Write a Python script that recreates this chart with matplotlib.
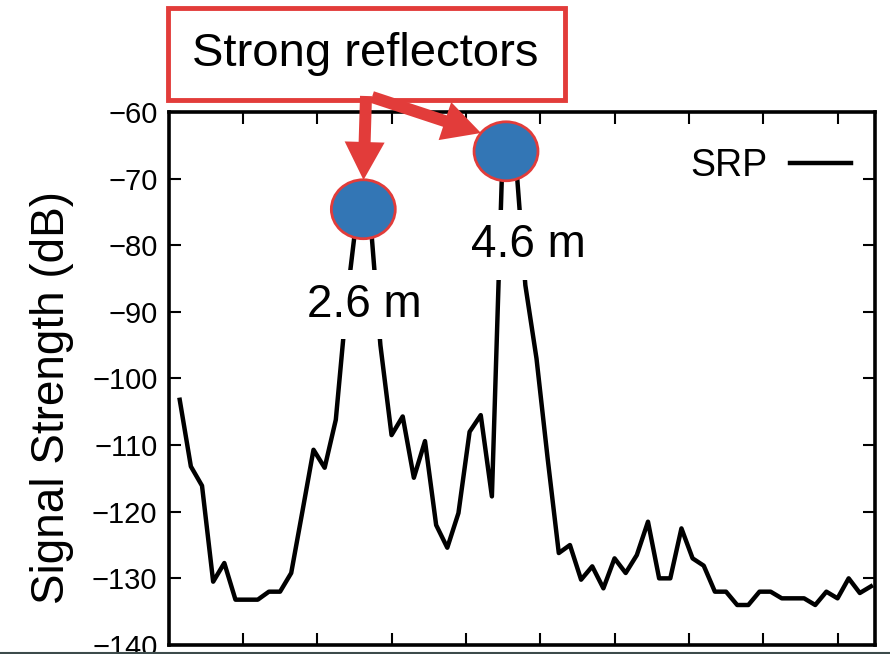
import matplotlib
matplotlib.use("Agg")
import matplotlib.pyplot as plt
from matplotlib.patches import Ellipse, FancyArrow, Rectangle
from matplotlib.lines import Line2D

plt.rcParams['font.family'] = ['Liberation Sans', 'DejaVu Sans']

# distance bins (m) and SRP signal strength (dB)
dist = [0.15, 0.30, 0.45, 0.60, 0.75, 0.90, 1.05, 1.20, 1.35, 1.50,
        1.65, 1.80, 1.95, 2.10, 2.25, 2.40, 2.55, 2.70, 2.85, 3.00,
        3.15, 3.30, 3.45, 3.60, 3.75, 3.90, 4.05, 4.20, 4.35, 4.50,
        4.65, 4.80, 4.95, 5.10, 5.25, 5.40, 5.55, 5.70, 5.85, 6.00,
        6.15, 6.30, 6.45, 6.60, 6.75, 6.90, 7.05, 7.20, 7.35, 7.50,
        7.65, 7.80, 7.95, 8.10, 8.25, 8.40, 8.55, 8.70, 8.85, 9.00,
        9.15, 9.30, 9.45]
srp = [-103.2, -113.2, -116.1, -130.5, -127.7, -133.2, -133.2, -133.2, -132.0, -132.0,
       -129.2, -120.0, -110.7, -113.4, -106.2, -88.0, -74.0, -74.0, -95.0, -108.5,
       -105.7, -114.9, -109.4, -122.0, -125.4, -120.2, -108.0, -105.5, -117.7, -64.0,
       -64.0, -86.0, -97.0, -112.0, -126.2, -125.0, -130.2, -128.2, -131.5, -127.0,
       -129.2, -126.5, -121.5, -130.0, -130.0, -122.5, -127.0, -128.1, -132.0, -132.0,
       -134.0, -134.0, -132.0, -132.0, -133.0, -133.0, -133.0, -134.0, -132.0, -133.0,
       -130.0, -132.2, -131.2]

# the two strong reflectors
peak_x = [2.62, 4.54]
peak_y = [-74.6, -65.9]
peak_labels = ['2.6 m', '4.6 m']
label_x = [2.63, 4.84]
label_y = [-88.9, -80.0]

y_ticks = [-140, -130, -120, -110, -100, -90, -80, -70, -60]
x_ticks = [1, 2, 3, 4, 5, 6, 7, 8, 9]

RED = '#E23C3A'
BLUE = '#3376B5'

fig = plt.figure(figsize=(8.9, 6.54), dpi=100)
ax = fig.add_axes([0.1894, 0.0138, 0.7934, 0.8150])

ax.plot(dist, srp, color='black', lw=3.2, label='SRP', zorder=2)

ax.set_xlim(0, 9.5)
ax.set_ylim(-140, -60)
ax.set_xticks(x_ticks)
ax.set_yticks(y_ticks)
ax.tick_params(direction='in', length=8.5, width=1.5, top=True, right=True,
               labelsize=21, pad=8)
# x tick labels sit below the cropped edge in the reference
ax.tick_params(axis='x', labelbottom=False)
for s in ax.spines.values():
    s.set_linewidth(2.6)

ax.set_ylabel('Signal Strength (dB)', fontsize=33, va='center')
ax.yaxis.set_label_coords(-0.165, 0.465)

leg = ax.legend(loc='center right', bbox_to_anchor=(0.9666, 0.8987), frameon=False,
                markerfirst=False, fontsize=27, handlelength=1.63,
                handletextpad=0.6, borderpad=0, borderaxespad=0)

# circles on the peaks and distance labels
for px, py in zip(peak_x, peak_y):
    ax.add_patch(Ellipse((px, py), 0.86, 8.85, facecolor=BLUE, edgecolor=RED,
                         lw=2.0, zorder=5, clip_on=False))
for lx, ly, txt in zip(label_x, label_y, peak_labels):
    ax.text(lx, ly, txt, fontsize=33, ha='center', va='center', zorder=4,
            bbox=dict(boxstyle='square,pad=0.28', fc='white', ec='none'))

# overlay in pixel units for the callout box and arrows
ov = fig.add_axes([0, 0, 1, 1], zorder=10)
ov.set_xlim(0, 890)
ov.set_ylim(654, 0)
ov.axis('off')
ov.patch.set_alpha(0)

ov.add_patch(Rectangle((168, 8), 397, 92, facecolor='white', edgecolor=RED, lw=3.5))
ov.text(365, 54, 'Strong reflectors', fontsize=34, ha='center', va='center')

ov.add_patch(FancyArrow(366, 96, -2.5, 84, width=12, head_width=40, head_length=38,
                        length_includes_head=True, color=RED, lw=0))
ov.add_patch(FancyArrow(372, 97, 109, 36, width=12, head_width=40, head_length=38,
                        length_includes_head=True, color=RED, lw=0))

ov.add_line(Line2D([0, 890], [653, 653], color='#3d4b4b', lw=1.5))

fig.savefig('out.png', dpi=100)
